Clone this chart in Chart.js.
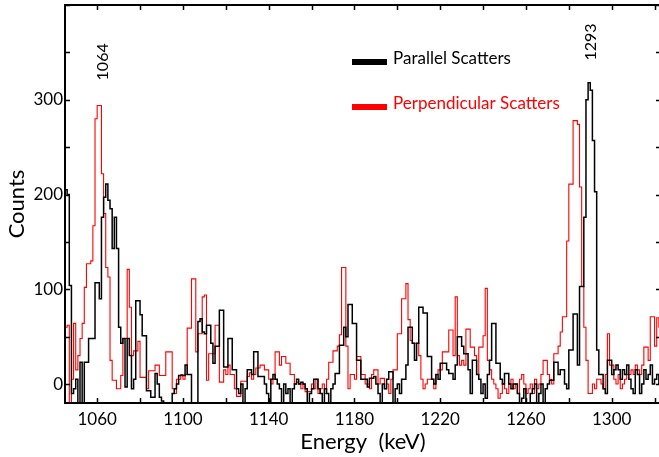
<!DOCTYPE html>
<html><head><meta charset="utf-8">
<script src="https://cdn.jsdelivr.net/npm/chart.js@4"></script>
<style>html,body{margin:0;padding:0;overflow:hidden;background:#fff}#wrap{width:664px;height:457px;position:relative}</style>
</head><body><div id="wrap"><canvas id="c"></canvas></div>
<script>
// ---- data ----
const binStart = 1045;   // keV, left edge of first bin
const binWidth = 1;      // keV
const seriesNames = ['Parallel Scatters', 'Perpendicular Scatters'];
const parallel = [
 205,200,104,-10,-5,5,-20,23,-20,23,
 23,48,48,48,107,107,90,176,197,211,
 194,185,143,176,143,60,43,48,-3,48,
 30,-5,5,88,88,73,51,51,-7,-7,
 -14,-14,11,0,-14,-18,-20,-20,-20,-20,
 -10,-5,0,9,9,9,20,10,10,-20,
 -20,-20,66,69,55,53,62,62,43,22,
 40,40,78,78,18,18,48,48,15,15,
 -5,-10,0,-20,-5,15,15,10,34,34,
 8,8,8,0,-10,-20,5,10,5,0,
 -5,-20,0,-10,-5,-20,-5,0,5,0,
 2,0,-5,-20,-10,-5,5,5,-5,-10,
 -20,-5,-10,-20,-5,0,11,11,41,41,
 60,50,84,84,64,64,25,25,5,5,
 5,-3,6,6,8,0,-10,-20,0,-5,
 5,13,13,-20,-5,0,-10,5,5,20,
 60,60,43,25,43,81,81,75,75,29,
 29,5,0,10,5,22,22,22,15,11,
 11,5,20,50,50,40,32,32,15,-10,
 25,25,10,5,-10,0,-15,10,25,64,
 64,22,22,5,0,11,11,0,-5,0,
 0,-10,-20,-15,-5,-20,-20,-10,-5,0,
 -20,-10,0,-20,-5,0,4,4,23,23,
 10,15,15,0,-5,36,36,74,74,20,
 103,103,176,300,318,310,257,203,36,10,
 10,-5,-10,25,25,10,15,20,15,5,
 15,10,20,5,-5,-10,15,10,-10,0,
 15,5,10,20,0,5,10,0
];
const perpendicular = [
 60,62,-20,5,64,15,30,48,64,102,
 127,127,130,167,280,294,294,222,180,123,
 113,25,4,4,-5,-5,9,48,48,121,
 81,30,35,35,45,7,7,7,-5,14,
 14,14,20,20,9,9,9,34,34,34,
 -5,-10,5,5,10,5,10,59,59,111,
 111,34,53,53,92,94,4,32,32,32,
 62,62,2,2,15,10,20,10,10,-5,
 -13,-13,3,3,3,8,12,5,10,17,
 17,20,20,15,15,5,0,5,34,34,
 20,29,29,22,22,10,10,0,2,0,
 -5,0,-8,-8,-8,0,-5,5,-10,-5,
 0,-10,5,23,23,35,35,40,52,123,
 123,40,-5,10,10,5,29,29,10,10,
 0,0,-5,10,15,15,0,6,6,-5,
 0,-10,5,15,15,53,53,90,90,106,
 68,46,43,43,43,30,5,-5,0,5,
 5,5,-5,10,15,15,34,34,34,57,
 57,30,92,30,20,25,20,58,58,39,
 39,30,10,39,39,51,101,25,15,5,
 0,-5,-15,-10,0,-5,-10,0,5,-5,
 0,-10,5,10,0,-10,-5,0,-10,5,
 -5,0,10,25,25,10,5,0,32,32,
 40,55,71,71,151,211,211,278,278,274,
 208,103,60,25,-10,-10,0,-5,5,5,
 0,-5,10,53,20,20,5,0,10,-5,
 0,5,10,10,15,10,20,15,10,20,
 39,39,25,71,71,40,70,60
];
const xTickLabels = [1060, 1100, 1140, 1180, 1220, 1260, 1300];
const yTickLabels = [0, 100, 200, 300];
const peakLabels = ['1064', '1293'];
const peakLabelEnergy = [1062.7, 1290.3];
const peakLabelCount = [340, 361];

// ---- helpers ----
function toPoints(arr) {
  const pts = arr.map((v, i) => ({x: binStart + i * binWidth, y: v}));
  pts.push({x: binStart + arr.length * binWidth, y: arr[arr.length - 1]});
  return pts;
}
const FONT = 'Lato, "DejaVu Sans", sans-serif';
const X_MIN = 1045, X_MAX = 1323, Y_MIN = -20, Y_MAX = 400;
const X_MINOR = 20, Y_MINOR = 50;

const framePlugin = {
  id: 'frame',
  afterDatasetsDraw(chart) {
    const {ctx, chartArea: a, scales: {x, y}} = chart;
    ctx.save();
    ctx.strokeStyle = '#000';
    ctx.lineWidth = 2;
    ctx.beginPath();
    ctx.rect(a.left, a.top, a.right - a.left, a.bottom - a.top);
    ctx.stroke();
    ctx.lineWidth = 1.5;
    const tl = 5;
    ctx.beginPath();
    for (let v = Math.ceil(X_MIN / X_MINOR) * X_MINOR; v <= X_MAX; v += X_MINOR) {
      const px = Math.round(x.getPixelForValue(v)) + 0.5;
      ctx.moveTo(px, a.bottom); ctx.lineTo(px, a.bottom - tl);
      ctx.moveTo(px, a.top); ctx.lineTo(px, a.top + tl);
    }
    for (let v = 0; v <= Y_MAX; v += Y_MINOR) {
      const py = Math.round(y.getPixelForValue(v)) + 0.5;
      ctx.moveTo(a.left, py); ctx.lineTo(a.left + tl, py);
      ctx.moveTo(a.right, py); ctx.lineTo(a.right - tl, py);
    }
    ctx.stroke();
    // legend
    ctx.textAlign = 'left';
    ctx.textBaseline = 'middle';
    ctx.font = '17px ' + FONT;
    const items = [
      {ds: chart.data.datasets[1], y: 62},
      {ds: chart.data.datasets[0], y: 107}
    ];
    items.forEach(it => {
      ctx.fillStyle = it.ds.borderColor;
      ctx.fillRect(352, it.y - 3, 35, 6);
      ctx.fillText(it.ds.label, 393, it.y - 3);
    });
    // peak labels
    ctx.fillStyle = '#000';
    ctx.font = '16px ' + FONT;
    ctx.textAlign = 'center';
    ctx.textBaseline = 'middle';
    peakLabels.forEach((t, i) => {
      ctx.save();
      ctx.translate(x.getPixelForValue(peakLabelEnergy[i]), y.getPixelForValue(peakLabelCount[i]));
      ctx.rotate(-Math.PI / 2);
      ctx.fillText(t, 0, 0);
      ctx.restore();
    });
    ctx.restore();
  }
};

new Chart(document.getElementById('c'), {
  type: 'line',
  data: {
    datasets: [
      {label: seriesNames[1], data: toPoints(perpendicular), borderColor: '#ff0000', borderWidth: 1.1,
       stepped: true, pointRadius: 0, fill: false, order: 2},
      {label: seriesNames[0], data: toPoints(parallel), borderColor: '#000000', borderWidth: 1.5,
       stepped: true, pointRadius: 0, fill: false, order: 1}
    ]
  },
  options: {
    responsive: true, maintainAspectRatio: false, animation: false,
    layout: {padding: {top: 5, right: 3, left: 0, bottom: 0}},
    plugins: {legend: {display: false}, tooltip: {enabled: false}},
    scales: {
      x: {
        type: 'linear', min: X_MIN, max: X_MAX,
        grid: {display: false, drawTicks: false}, border: {display: false},
        afterBuildTicks: s => { s.ticks = xTickLabels.map(v => ({value: v})); },
        afterFit: s => { s.height = 54; s.paddingLeft = 0; s.paddingRight = 0; },
        ticks: {padding: 6, color: '#000', maxRotation: 0, autoSkip: false,
                font: {family: FONT, size: 17}, callback: v => String(v)},
        title: {display: true, text: 'Energy  (keV)', color: '#000', font: {family: FONT, size: 22}, padding: {top: 0, bottom: 2}}
      },
      y: {
        min: Y_MIN, max: Y_MAX,
        grid: {display: false, drawTicks: false}, border: {display: false},
        afterBuildTicks: s => { s.ticks = yTickLabels.map(v => ({value: v})); },
        afterFit: s => { s.width = 65; s.paddingTop = 0; s.paddingBottom = 0; },
        ticks: {padding: 2, color: '#000', font: {family: FONT, size: 17}, callback: v => String(v)},
        title: {display: true, text: 'Counts', color: '#000', font: {family: FONT, size: 22}, padding: {top: 4, bottom: 0}}
      }
    }
  },
  plugins: [framePlugin]
});
</script>
</body></html>
